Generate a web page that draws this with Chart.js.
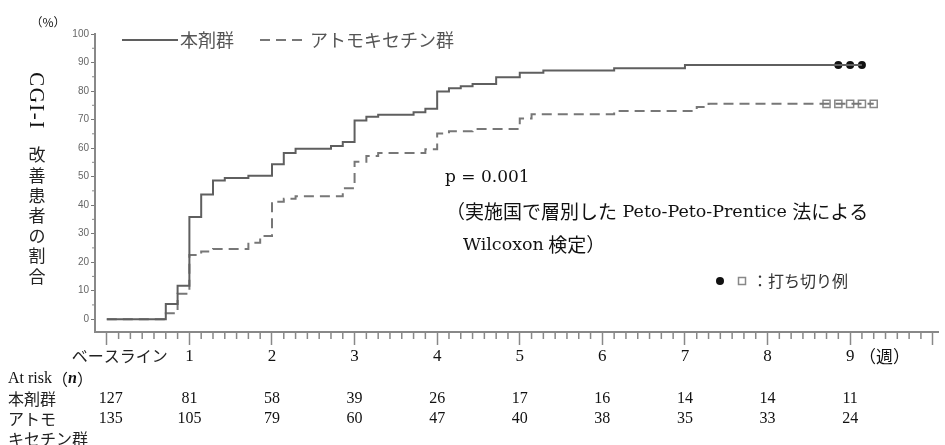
<!DOCTYPE html>
<html lang="ja">
<head>
<meta charset="utf-8">
<script src="https://cdn.jsdelivr.net/npm/chart.js@4"></script>
<style>
  html, body { margin: 0; padding: 0; background: #fff; }
  #wrap { width: 945px; height: 445px; }
</style>
</head>
<body>
<div id="wrap"><canvas id="cgiChart" width="945" height="445"></canvas></div>
<script>
// 改善までの日数（日）と累積改善率（%）
const honzaiDays = [0, 5, 6, 7, 8, 9, 10, 12, 14, 15, 16, 19, 20, 21, 22, 23, 26, 27, 28, 29, 30, 31, 33, 35, 37, 43, 49, 64];
const honzaiPct  = [0, 5.3, 11.7, 35.8, 43.7, 48.6, 49.5, 50.3, 54.3, 58.3, 59.8, 60.7, 62.1, 69.7, 71.0, 71.7, 72.6, 73.8, 79.8, 81.0, 81.7, 82.5, 84.8, 86.4, 87.2, 88.0, 89.1, 89.1];

const atoDays = [0, 5, 6, 7, 8, 9, 12, 13, 14, 15, 16, 20, 21, 22, 23, 27, 28, 29, 31, 35, 36, 43, 50, 51, 65];
const atoPct  = [0, 2.1, 8.9, 22.5, 23.7, 24.6, 26.8, 29.2, 41.2, 42.2, 43.1, 45.9, 55.2, 57.2, 58.3, 59.6, 65.1, 65.9, 66.7, 70.4, 71.9, 73.0, 74.4, 75.5, 75.5];

// 打ち切り（日）
const honzaiCensorDays = [62, 63, 64];
const atoCensorDays = [61, 62, 63, 64, 65];

const weekLabels = ['ベースライン', '1', '2', '3', '4', '5', '6', '7', '8', '9'];
const atRiskHonzai = [127, 81, 58, 39, 26, 17, 16, 14, 14, 11];
const atRiskAto    = [135, 105, 79, 60, 47, 40, 38, 35, 33, 24];

const yTicks = [0, 10, 20, 30, 40, 50, 60, 70, 80, 90, 100];

const SERIF = "'DejaVu Serif', serif";
const TIMES = "'Liberation Serif', serif";
const JP = "'Noto Sans CJK JP', sans-serif";
const LINE_SOLID = '#5f5f5f';
const LINE_DASH = '#777';
const DASH = [10, 6];

function toPoints(days, pct) {
  return days.map((d, i) => ({ x: d / 7, y: pct[i] }));
}

// 打ち切り時点の曲線上の値
function valueAt(days, pct, d) {
  let v = pct[0];
  days.forEach((t, i) => { if (t <= d) v = pct[i]; });
  return v;
}

function censorPoints(cDays, days, pct) {
  return cDays.map(d => ({ x: d / 7, y: valueAt(days, pct, d) }));
}

function drawRuns(ctx, runs, x, y) {
  runs.forEach(([text, font]) => {
    ctx.font = font;
    ctx.fillText(text, x, y);
    x += ctx.measureText(text).width;
  });
}

const decor = {
  id: 'decor',
  afterDraw(chart) {
    const ctx = chart.ctx;
    const xs = chart.scales.x;
    const ys = chart.scales.y;
    const area = chart.chartArea;
    ctx.save();

    // 副目盛り
    ctx.strokeStyle = '#888';
    ctx.lineWidth = 1.5;
    ctx.beginPath();
    for (let d = 1; d <= 70; d++) {
      if (d % 7 === 0) continue;
      const px = xs.getPixelForValue(d / 7);
      ctx.moveTo(px, area.bottom);
      ctx.lineTo(px, area.bottom + 7);
    }
    ctx.stroke();
    ctx.lineWidth = 1;
    ctx.beginPath();
    for (let v = 5; v < 100; v += 10) {
      const py = ys.getPixelForValue(v);
      ctx.moveTo(area.left, py);
      ctx.lineTo(area.left - 3, py);
    }
    ctx.stroke();

    // 週ラベル
    ctx.textBaseline = 'middle';
    ctx.textAlign = 'center';
    ctx.fillStyle = '#111';
    weekLabels.forEach((lab, i) => {
      const px = xs.getPixelForValue(i);
      if (i === 0) {
        ctx.font = `16px ${JP}`;
        ctx.fillStyle = '#222';
        ctx.fillText(lab, px + 13, 356);
      } else {
        ctx.font = `17px ${TIMES}`;
        ctx.fillStyle = '#111';
        ctx.fillText(lab, px, 357);
      }
    });
    ctx.textAlign = 'left';
    ctx.font = `17px ${JP}`;
    ctx.fillText('（週）', 859, 357);

    // At risk 表
    drawRuns(ctx, [['At risk', `16px ${TIMES}`], ['（', `16px ${JP}`], ['n', `italic bold 16px ${TIMES}`], ['）', `16px ${JP}`]], 8, 379);
    ctx.font = `16px ${JP}`;
    ctx.fillStyle = '#222';
    ctx.fillText('本剤群', 8, 399);
    ctx.fillText('アトモ', 8, 419);
    ctx.fillText('キセチン群', 8, 439);
    ctx.textAlign = 'center';
    ctx.font = `16px ${TIMES}`;
    ctx.fillStyle = '#111';
    atRiskHonzai.forEach((n, i) => ctx.fillText(String(n), xs.getPixelForValue(i) + (i === 0 ? 4 : 0), 399));
    atRiskAto.forEach((n, i) => ctx.fillText(String(n), xs.getPixelForValue(i) + (i === 0 ? 4 : 0), 419));

    // 凡例
    ctx.lineWidth = 2;
    ctx.strokeStyle = LINE_SOLID;
    ctx.beginPath();
    ctx.moveTo(122, 40);
    ctx.lineTo(178, 40);
    ctx.stroke();
    ctx.strokeStyle = LINE_DASH;
    ctx.setLineDash(DASH);
    ctx.beginPath();
    ctx.moveTo(260, 40);
    ctx.lineTo(308, 40);
    ctx.stroke();
    ctx.setLineDash([]);
    ctx.textAlign = 'left';
    ctx.font = `18px ${JP}`;
    ctx.fillStyle = '#555';
    ctx.fillText('本剤群', 180, 40);
    ctx.fillText('アトモキセチン群', 310, 40);

    // 打ち切り凡例
    ctx.fillStyle = '#111';
    ctx.beginPath();
    ctx.arc(720, 281, 4, 0, Math.PI * 2);
    ctx.fill();
    ctx.strokeStyle = '#888';
    ctx.lineWidth = 1.5;
    ctx.strokeRect(738.5, 277.5, 7, 7);
    ctx.font = `16px ${JP}`;
    ctx.fillStyle = '#333';
    ctx.fillText('：打ち切り例', 752, 281);

    // 検定結果
    ctx.fillStyle = '#111';
    ctx.font = `17px ${SERIF}`;
    ctx.fillText('p = 0.001', 445, 178);
    drawRuns(ctx, [['（実施国で層別した', `19px ${JP}`], [' Peto-Peto-Prentice ', `17.5px ${SERIF}`], ['法による', `19px ${JP}`]], 446, 212);
    drawRuns(ctx, [['Wilcoxon', `17.5px ${SERIF}`], [' 検定）', `19px ${JP}`]], 463, 245);

    // 縦軸タイトル
    ctx.font = `12px ${JP}`;
    ctx.textAlign = 'center';
    ctx.fillText('（%）', 48, 22);
    ctx.save();
    ctx.translate(36, 101);
    ctx.rotate(Math.PI / 2);
    ctx.font = `21px ${TIMES}`;
    if ('letterSpacing' in ctx) ctx.letterSpacing = '1.5px';
    ctx.fillText('CGI-I', 0, 0);
    ctx.restore();
    ctx.font = `17px ${JP}`;
    ctx.fillStyle = '#222';
    ['改', '善', '患', '者', 'の', '割', '合'].forEach((ch, i) => {
      ctx.fillText(ch, 37, 155 + i * 20.2);
    });

    ctx.restore();
  }
};

new Chart(document.getElementById('cgiChart'), {
  type: 'line',
  data: {
    datasets: [
      {
        label: '本剤群',
        data: toPoints(honzaiDays, honzaiPct),
        stepped: true,
        borderColor: LINE_SOLID,
        borderWidth: 2,
        pointRadius: 0,
        fill: false
      },
      {
        label: 'アトモキセチン群',
        data: toPoints(atoDays, atoPct),
        stepped: true,
        borderColor: LINE_DASH,
        borderDash: DASH,
        borderWidth: 2,
        pointRadius: 0,
        fill: false
      },
      {
        label: '本剤群 打ち切り',
        data: censorPoints(honzaiCensorDays, honzaiDays, honzaiPct),
        showLine: false,
        pointStyle: 'circle',
        pointRadius: 4,
        pointBackgroundColor: '#111',
        pointBorderColor: '#111',
        pointBorderWidth: 0
      },
      {
        label: 'アトモキセチン群 打ち切り',
        data: censorPoints(atoCensorDays, atoDays, atoPct),
        showLine: false,
        pointStyle: 'rect',
        pointRadius: 5,
        pointBackgroundColor: '#fff',
        pointBorderColor: '#888',
        pointBorderWidth: 1.5
      }
    ]
  },
  options: {
    responsive: false,
    animation: false,
    layout: { padding: { top: 34, right: 1, bottom: 0, left: 0 } },
    plugins: {
      legend: { display: false },
      tooltip: { enabled: false }
    },
    scales: {
      x: {
        type: 'linear',
        min: -1 / 7,
        max: 10.07,
        afterBuildTicks: s => { s.ticks = [0, 1, 2, 3, 4, 5, 6, 7, 8, 9, 10].map(v => ({ value: v })); },
        afterFit: s => { s.height = 113; },
        grid: { drawOnChartArea: false, tickLength: 13, color: '#888', tickWidth: 1.5 },
        border: { color: '#888', width: 2 },
        ticks: { display: false }
      },
      y: {
        type: 'linear',
        min: -4.5,
        max: 100,
        afterBuildTicks: s => { s.ticks = yTicks.map(v => ({ value: v })); },
        afterFit: s => { s.width = 95; },
        grid: { drawOnChartArea: false, tickLength: 4, color: '#777', tickWidth: 1 },
        border: { color: '#888', width: 2 },
        ticks: { font: { family: 'Liberation Sans', size: 10 }, color: '#666', padding: 2 }
      }
    }
  },
  plugins: [decor]
});
</script>
</body>
</html>
